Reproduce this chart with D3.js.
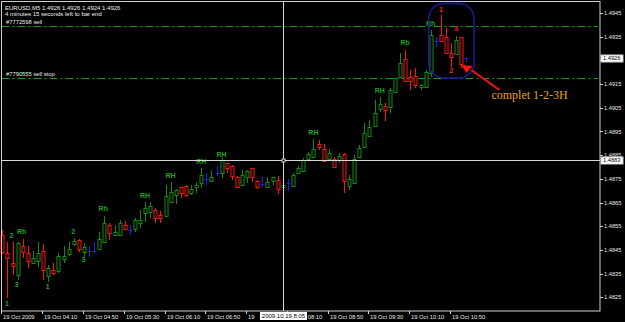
<!DOCTYPE html>
<html>
<head>
<meta charset="utf-8">
<script src="https://cdn.jsdelivr.net/npm/d3@7"></script>
<style>
  body { margin: 0; background: #000; }
  svg { display: block; }
  text { font-family: "Liberation Sans", Arial, sans-serif; }
</style>
</head>
<body>
<div id="main"></div>
<script>
// **** Chart data (EURUSD M5, 19 Oct 2009, one value per 5 minute bar) ****
var opens  = [1.48513,1.48437,1.48395,1.48344,1.48467,1.48437,1.48395,1.48403,1.48446,1.48340,
              1.48366,1.48361,1.48412,1.48433,1.48475,1.48494,1.48441,1.48446,1.48446,1.48454,
              1.48484,1.48555,1.48513,1.48513,1.48555,1.48534,1.48538,1.48564,1.48606,1.48610,
              1.48619,1.48598,1.48593,1.48652,1.48686,1.48714,1.48722,1.48690,1.48716,1.48733,
              1.48749,1.48741,1.48775,1.48775,1.48815,1.48804,1.48758,1.48724,1.48758,1.48794,
              1.48743,1.48728,1.48716,1.48741,1.48745,1.48716,1.48733,1.48720,1.48775,1.48783,
              1.48834,1.48842,1.48897,1.48876,1.48834,1.48836,1.48830,1.48857,1.48720,1.48733,
              1.48842,1.48885,1.48931,1.48973,1.49045,1.49058,1.49053,1.49117,1.49180,1.49256,
              1.49180,1.49184,1.49138,1.49138,1.49197,1.49332,1.49357,1.49349,1.49281,1.49277,
              1.49347,1.49260];
var highs  = [1.48534,1.48484,1.48484,1.48484,1.48496,1.48467,1.48446,1.48484,1.48475,1.48387,
              1.48395,1.48437,1.48467,1.48484,1.48500,1.48496,1.48479,1.48467,1.48484,1.48526,
              1.48593,1.48564,1.48555,1.48576,1.48572,1.48555,1.48585,1.48619,1.48652,1.48652,
              1.48627,1.48614,1.48724,1.48737,1.48707,1.48716,1.48724,1.48724,1.48737,1.48796,
              1.48775,1.48787,1.48804,1.48838,1.48817,1.48809,1.48762,1.48787,1.48787,1.48796,
              1.48745,1.48758,1.48758,1.48758,1.48762,1.48737,1.48749,1.48775,1.48804,1.48838,
              1.48863,1.48918,1.48914,1.48897,1.48876,1.48842,1.48859,1.48859,1.48766,1.48851,
              1.48893,1.48986,1.48998,1.49083,1.49096,1.49070,1.49134,1.49176,1.49281,1.49294,
              1.49210,1.49218,1.49150,1.49210,1.49378,1.49349,1.49442,1.49387,1.49323,1.49353,
              1.49349,1.49260];
var lows   = [1.48433,1.48247,1.48344,1.48323,1.48416,1.48374,1.48391,1.48378,1.48323,1.48315,
              1.48344,1.48353,1.48395,1.48425,1.48467,1.48441,1.48420,1.48420,1.48437,1.48450,
              1.48479,1.48492,1.48509,1.48509,1.48534,1.48513,1.48526,1.48543,1.48568,1.48585,
              1.48564,1.48564,1.48589,1.48648,1.48644,1.48669,1.48674,1.48682,1.48690,1.48712,
              1.48724,1.48739,1.48762,1.48754,1.48775,1.48745,1.48714,1.48720,1.48733,1.48737,
              1.48707,1.48716,1.48714,1.48724,1.48686,1.48682,1.48699,1.48716,1.48773,1.48779,
              1.48832,1.48840,1.48872,1.48823,1.48830,1.48796,1.48817,1.48690,1.48703,1.48730,
              1.48838,1.48882,1.48927,1.48971,1.49032,1.48994,1.49028,1.49112,1.49178,1.49159,
              1.49125,1.49134,1.49125,1.49136,1.49180,1.49307,1.49330,1.49279,1.49222,1.49273,
              1.49218,1.49240];
var closes = [1.48441,1.48416,1.48382,1.48479,1.48441,1.48403,1.48416,1.48437,1.48366,1.48374,
              1.48353,1.48425,1.48425,1.48454,1.48488,1.48454,1.48462,1.48446,1.48446,1.48496,
              1.48564,1.48522,1.48526,1.48564,1.48538,1.48534,1.48576,1.48576,1.48627,1.48636,
              1.48585,1.48585,1.48678,1.48695,1.48705,1.48690,1.48686,1.48707,1.48724,1.48766,
              1.48749,1.48758,1.48775,1.48830,1.48796,1.48762,1.48716,1.48766,1.48785,1.48758,
              1.48716,1.48728,1.48737,1.48756,1.48707,1.48724,1.48733,1.48766,1.48796,1.48830,
              1.48855,1.48876,1.48885,1.48825,1.48859,1.48804,1.48847,1.48741,1.48749,1.48834,
              1.48880,1.48944,1.48969,1.49028,1.49066,1.49041,1.49125,1.49174,1.49239,1.49163,
              1.49163,1.49146,1.49146,1.49201,1.49357,1.49332,1.49332,1.49281,1.49264,1.49336,
              1.49235,1.49260];

var timeTickBars = [0, 8, 16, 24, 32, 40, 48, 56, 64, 72, 80, 88];
var timeTickLabels = ["19 Oct 2009", "19 Oct 04:10", "19 Oct 04:50", "19 Oct 05:30", "19 Oct 06:10",
                      "19 Oct 06:50", "19 Oct 07:30", "19 Oct 08:10", "19 Oct 08:50", "19 Oct 09:30",
                      "19 Oct 10:10", "19 Oct 10:50"];
var priceTicks = [1.4945, 1.4935, 1.4925, 1.4915, 1.4905, 1.4895, 1.4885, 1.4875, 1.4865, 1.4855, 1.4845, 1.4835, 1.4825];

// order lines
var orderPrices = [1.49395, 1.49176];
var orderNames = ["#7772598 sell", "#7790555 sell stop"];

// pattern labels: text, bar, price, colour group
var markTexts  = ["1", "2", "3", "Rh", "1", "2", "3", "Rh", "RH", "RH", "RH", "RH", "RH", "RH", "Rh", "Rh", "1", "3", "2"];
var markBars   = [0.9, 1.8, 2.8, 3.8, 8.9, 13.9, 15.9, 19.8, 28, 33, 39, 43, 61, 74, 79, 84, 86, 89, 88];
var markPrices = [1.48226, 1.48513, 1.48306, 1.48526, 1.48294, 1.48526, 1.48408, 1.48623, 1.48682, 1.48763,
                  1.48822, 1.48854, 1.48945, 1.49125, 1.49325, 1.49404, 1.49466, 1.49385, 1.49207];
var markRed    = [0, 0, 0, 0, 0, 0, 0, 0, 0, 0, 0, 0, 0, 0, 0, 0, 1, 1, 1];

var headerLine1 = "EURUSD,M5  1.4926 1.4926 1.4924 1.4926";
var headerLine2 = "4 minutes 15 seconds left to bar end";
var currentPrice = 1.4926;
var crossBar = 55, crossPrice = 1.4883, crossLabel = "2009.10.19 8:05";

// **** Sizes ****
var width = 625, height = 322;
var plot = {left: 1.5, top: 1.5, right: 600, bottom: 311};

var svg = d3.select("#main")
  .append("svg")
    .attr("width", width)
    .attr("height", height)
    .style("background", "#000");

// **** Scales ****
var x = d3.scaleLinear().domain([0, 91]).range([2.3, 466.4]);
var y = d3.scaleLinear().domain([1.4945, 1.4825]).range([13, 297.4]);

var upColor = "#128c12", downColor = "#ff1414", dojiColor = "#1c1cff";
var labelGreen = "#1fa31f";

// **** Order lines (dash dot) ****
svg.selectAll(".order")
  .data(orderPrices)
  .enter()
  .append("line")
    .attr("x1", plot.left)
    .attr("x2", plot.right - 2)
    .attr("y1", function(d){ return Math.round(y(d)) + 0.5; })
    .attr("y2", function(d){ return Math.round(y(d)) + 0.5; })
    .style("stroke", "#14a014")
    .style("stroke-width", 1)
    .style("stroke-dasharray", "8,3,2,3");

svg.selectAll(".orderText")
  .data(orderNames)
  .enter()
  .append("text")
    .attr("x", 6)
    .attr("y", function(d, i){ return Math.round(y(orderPrices[i])) - 2; })
    .text(function(d){ return d; })
    .style("fill", "#e8e8e8")
    .style("font-size", "5.8px");

// **** Candles ****
var bars = d3.range(opens.length);
function colorOf(i) {
  if (closes[i] > opens[i]) return upColor;
  if (closes[i] < opens[i]) return downColor;
  return dojiColor;
}
function cx(i) { return Math.round(x(i)) + 0.5; }

var candles = svg.append("g");

candles.selectAll(".wick")
  .data(bars)
  .enter()
  .append("line")
    .attr("x1", cx).attr("x2", cx)
    .attr("y1", function(i){ return y(highs[i]); })
    .attr("y2", function(i){ return y(lows[i]); })
    .style("stroke", colorOf)
    .style("stroke-width", 1);

candles.selectAll(".body")
  .data(bars.filter(function(i){ return opens[i] != closes[i]; }))
  .enter()
  .append("rect")
    .attr("x", function(i){ return cx(i) - 1.5; })
    .attr("width", 3)
    .attr("y", function(i){ return Math.round(y(Math.max(opens[i], closes[i]))) + 0.5; })
    .attr("height", function(i){ return Math.max(1, Math.round(Math.abs(y(opens[i]) - y(closes[i])))); })
    .style("fill", "#000")
    .style("stroke", colorOf)
    .style("stroke-width", 1);

candles.selectAll(".doji")
  .data(bars.filter(function(i){ return opens[i] == closes[i]; }))
  .enter()
  .append("line")
    .attr("x1", function(i){ return cx(i) - 2; })
    .attr("x2", function(i){ return cx(i) + 2; })
    .attr("y1", function(i){ return Math.round(y(opens[i])) + 0.5; })
    .attr("y2", function(i){ return Math.round(y(opens[i])) + 0.5; })
    .style("stroke", dojiColor);

// **** Pattern labels ****
svg.selectAll(".mark")
  .data(markTexts)
  .enter()
  .append("text")
    .attr("x", function(d, i){ return x(markBars[i]); })
    .attr("y", function(d, i){ return y(markPrices[i]) + 2.5; })
    .attr("text-anchor", "middle")
    .text(function(d){ return d; })
    .style("fill", function(d, i){ return markRed[i] ? "#ff2020" : labelGreen; })
    .style("font-size", "7px")
    .style("font-weight", "bold");

// **** 1-2-3 annotation ****
svg.append("rect")
    .attr("x", x(83.6))
    .attr("y", y(1.4949))
    .attr("width", x(92.5) - x(83.6))
    .attr("height", y(1.49176) - y(1.4949))
    .attr("rx", 15)
    .style("fill", "none")
    .style("stroke", "#1a1a9e")
    .style("stroke-width", 1.5);

var tipX = x(91), tipY = y(1.49197);
svg.append("line")
    .attr("x1", tipX + 5).attr("y1", tipY - 3)
    .attr("x2", tipX + 33).attr("y2", tipY + 17)
    .style("stroke", "#ff1010")
    .style("stroke-width", 2);

svg.append("path")
    .attr("d", "M" + (tipX - 5) + "," + (tipY - 8) + "L" + (tipX + 6) + "," + (tipY - 7) + "L" + tipX + "," + tipY + "Z")
    .style("fill", "#ff1010");

svg.append("text")
    .attr("x", tipX + 25)
    .attr("y", tipY + 26)
    .text("complet 1-2-3H")
    .style("fill", "#eea010")
    .style("font-family", "'Liberation Serif', 'Times New Roman', serif")
    .style("font-size", "12px");

// **** Crosshair ****
svg.append("line")
    .attr("x1", cx(crossBar)).attr("x2", cx(crossBar))
    .attr("y1", plot.top).attr("y2", plot.bottom)
    .style("stroke", "#d8d8d8");
svg.append("line")
    .attr("x1", plot.left).attr("x2", plot.right)
    .attr("y1", Math.round(y(crossPrice)) + 0.5).attr("y2", Math.round(y(crossPrice)) + 0.5)
    .style("stroke", "#d8d8d8");
svg.append("rect")
    .attr("x", cx(crossBar) - 1.5).attr("y", Math.round(y(crossPrice)) - 1)
    .attr("width", 3).attr("height", 3)
    .style("fill", "#000").style("stroke", "#d8d8d8");

// **** Frame ****
svg.append("rect")
    .attr("x", plot.left)
    .attr("y", plot.top)
    .attr("width", plot.right - plot.left)
    .attr("height", plot.bottom - plot.top)
    .style("fill", "none")
    .style("stroke", "#d0d0d0");

// **** Header text ****
svg.append("text").attr("x", 5).attr("y", 9.5).text(headerLine1)
    .style("fill", "#f0f0f0").style("font-size", "6px");
svg.append("text").attr("x", 5).attr("y", 15.5).text(headerLine2)
    .style("fill", "#f0f0f0").style("font-size", "6px");

// **** Price axis ****
// price boxes hide the tick labels lying under them
var boxPrices = [currentPrice, crossPrice];
function hiddenByBox(p) {
  return boxPrices.some(function(b){ return Math.abs(y(b) - y(p)) < 4; });
}

var priceAxis = svg.append("g").attr("class", "y axis");
priceAxis.selectAll("line")
  .data(priceTicks)
  .enter()
  .append("line")
    .attr("x1", plot.right).attr("x2", plot.right + 3)
    .attr("y1", function(d){ return Math.round(y(d)) + 0.5; })
    .attr("y2", function(d){ return Math.round(y(d)) + 0.5; })
    .style("stroke", "#d0d0d0");
priceAxis.selectAll("text")
  .data(priceTicks.filter(function(p){ return !hiddenByBox(p); }))
  .enter()
  .append("text")
    .attr("x", plot.right + 4)
    .attr("y", function(d){ return y(d) + 2; })
    .text(function(d){ return d.toFixed(4); })
    .style("fill", "#e8e8e8")
    .style("font-size", "5.7px");

function priceBox(p) {
  svg.append("rect")
      .attr("x", plot.right + 1).attr("y", Math.round(y(p)) - 3)
      .attr("width", 22).attr("height", 7)
      .style("fill", "#fff").style("stroke", "#d0d0d0");
  svg.append("text")
      .attr("x", plot.right + 3).attr("y", y(p) + 2.3)
      .text(p.toFixed(4))
      .style("fill", "#000")
      .style("font-size", "5.7px");
}
priceBox(currentPrice);
priceBox(crossPrice);

// **** Time axis ****
var crossW = 47;
var boxL = cx(crossBar) - crossW / 2, boxR = cx(crossBar) + crossW / 2;

var timeAxis = svg.append("g").attr("class", "x axis");
timeAxis.selectAll("line")
  .data(timeTickBars)
  .enter()
  .append("line")
    .attr("x1", function(d){ return cx(d) - 1; })
    .attr("x2", function(d){ return cx(d) - 1; })
    .attr("y1", plot.bottom).attr("y2", plot.bottom + 3)
    .style("stroke", "#d0d0d0");

timeTickLabels.forEach(function(label, i) {
  var t = timeAxis.append("text")
      .attr("x", cx(timeTickBars[i]) + 0.5)
      .attr("y", 318.5)
      .text(label)
      .style("fill", "#e8e8e8")
      .style("font-size", "5.8px");
  var x0 = cx(timeTickBars[i]) + 0.5;
  // only the part of the label outside the crosshair box stays visible
  if (x0 < boxL) {
    var s = label;
    while (s.length && x0 + t.node().getComputedTextLength() > boxL - 0.5) {
      s = s.slice(0, -1).replace(/\s+$/, "");
      t.text(s);
    }
  } else if (x0 < boxR) {
    var full = t.node().getComputedTextLength();
    var s2 = label;
    while (s2.length && x0 + full - t.node().getComputedTextLength() < boxR + 0.5) {
      s2 = s2.slice(1).replace(/^\s+/, "");
      t.text(s2);
    }
    t.attr("x", x0 + full - t.node().getComputedTextLength());
  }
});

svg.append("rect")
    .attr("x", boxL).attr("y", 312)
    .attr("width", crossW).attr("height", 8)
    .style("fill", "#fff");
svg.append("text")
    .attr("x", cx(crossBar))
    .attr("y", 318.3)
    .attr("text-anchor", "middle")
    .text(crossLabel)
    .style("fill", "#000")
    .style("font-size", "6px");
</script>
</body>
</html>
